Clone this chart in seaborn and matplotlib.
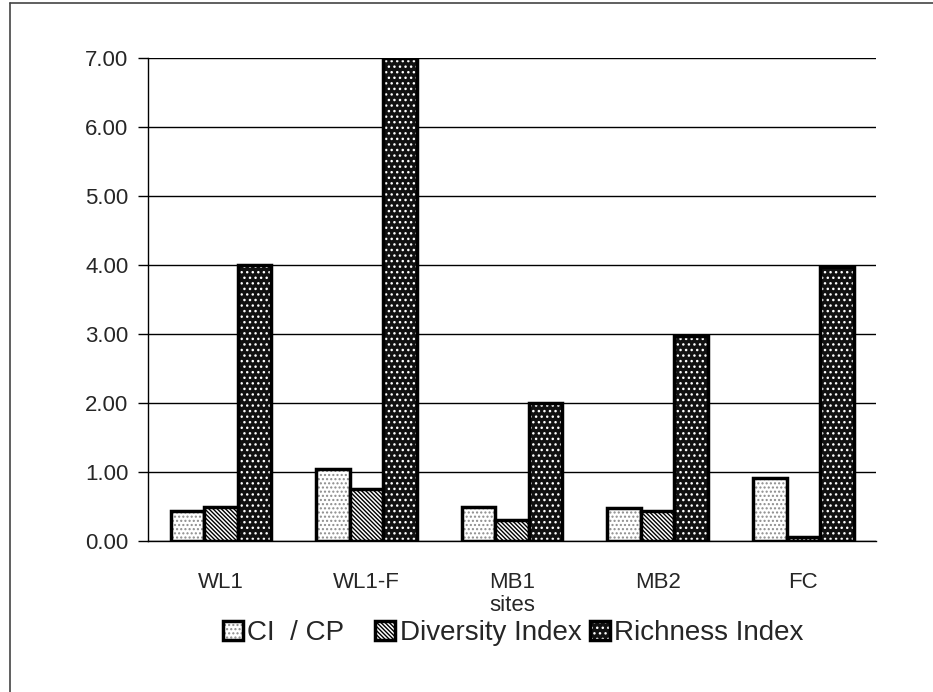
import pandas as pd
import matplotlib
matplotlib.use("Agg")
import matplotlib.pyplot as plt
from matplotlib.lines import Line2D
import seaborn as sns

# Data
sites = ["WL1", "WL1-F", "MB1", "MB2", "FC"]
ci_cp = [0.43, 1.05, 0.49, 0.48, 0.91]
diversity = [0.50, 0.75, 0.30, 0.43, 0.06]
richness = [4.00, 7.00, 2.00, 2.98, 3.97]
series = ["CI  / CP", "Diversity Index", "Richness Index"]

df = pd.DataFrame({
    "site": sites * 3,
    "value": ci_cp + diversity + richness,
    "index": [series[0]] * 5 + [series[1]] * 5 + [series[2]] * 5,
})

sns.set_style("white")
plt.rcParams["font.family"] = ["Liberation Sans", "DejaVu Sans"]
plt.rcParams["hatch.linewidth"] = 1.0

fig = plt.figure(figsize=(9.33, 6.92), dpi=100)
ax = fig.add_axes([0.1586, 0.218, 0.7804, 0.698])

sns.barplot(
    data=df, x="site", y="value", hue="index",
    palette=["white", "white", "#111111"],
    edgecolor="black", linewidth=2.5, width=0.69,
    ax=ax, legend=False,
)

# hatch pattern and hatch colour for each series
styles = [("....", (0.55, 0.55, 0.55, 1)), ("\\" * 8, (0, 0, 0, 1)), ("...", (1, 1, 1, 1))]
for container, (hatch, hcol) in zip(ax.containers, styles):
    for p in container:
        p.set_hatch(hatch)
        p._hatch_color = hcol

ax.set_ylim(0, 7)
ax.set_xlim(-0.5, 4.5)
ax.set_yticks(range(0, 8))
ax.set_yticklabels([f"{v:.2f}" for v in range(0, 8)])
ax.yaxis.grid(True, color="black", linewidth=1.0)
ax.set_axisbelow(True)

ax.set_xticks([i - 0.5 for i in range(6)], minor=True)
ax.tick_params(axis="x", which="major", length=0, labelsize=16, pad=22)
ax.tick_params(axis="x", which="minor", length=16, width=1, direction="inout", color="black")
ax.tick_params(axis="y", length=7, width=1, direction="out", labelsize=16, pad=7, color="black", left=True)

for s in ["top", "right"]:
    ax.spines[s].set_visible(False)
for s in ["left", "bottom"]:
    ax.spines[s].set_color("black")
    ax.spines[s].set_linewidth(1)

ax.set_xlabel("sites", fontsize=16, labelpad=2)
ax.set_ylabel("")

handles = [c.patches[0] for c in ax.containers]
labels = [series[0] + "   ", series[1], series[2]]
fig.legend(
    handles, labels, loc="center", bbox_to_anchor=(0.55, 0.085),
    ncol=3, frameon=False, fontsize=20, handlelength=0.72, handleheight=0.72,
    handletextpad=0.15, columnspacing=0.3,
)

# page border (left and top)
fig.add_artist(Line2D([0.011, 0.011], [0, 0.996], color="#444444", lw=1.2))
fig.add_artist(Line2D([0.011, 1.0], [0.996, 0.996], color="#444444", lw=1.2))

fig.savefig("out.png", dpi=100)
